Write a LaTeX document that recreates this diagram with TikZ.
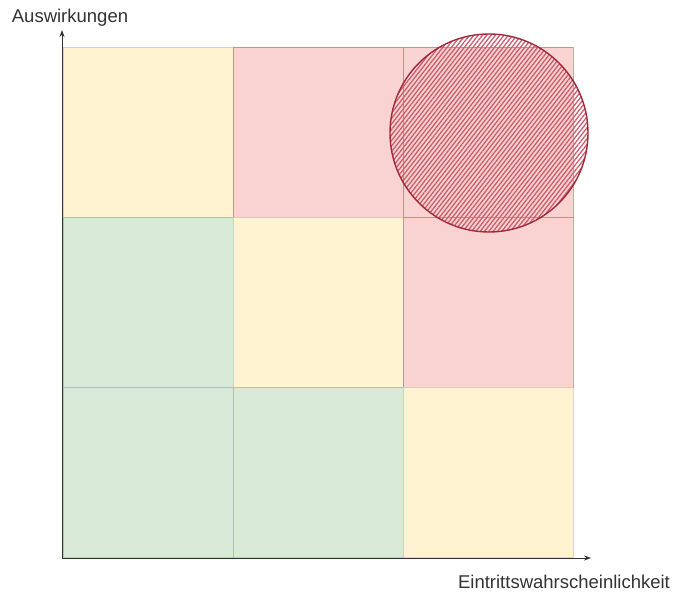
\documentclass[tikz,border=0pt]{standalone}
\usepackage{fontspec}
\setmainfont{Liberation Sans}
\usepackage{tikz}
\usetikzlibrary{arrows.meta,patterns.meta,positioning}

\definecolor{gelb}{HTML}{FFF2CC}
\definecolor{gelbrand}{HTML}{D6B656}
\definecolor{rot}{HTML}{F8CECC}
\definecolor{rotrand}{HTML}{B85450}
\definecolor{gruen}{HTML}{D5E8D4}
\definecolor{gruenrand}{HTML}{82B366}
\definecolor{schraffur}{HTML}{CC5C6C}
\definecolor{kreisrand}{HTML}{A02A3A}

\begin{document}
\begin{tikzpicture}[>={Stealth[length=7pt,width=5pt]}, x=1pt, y=-1pt,
  every node/.style={font=\fontsize{18.5}{22}\selectfont, text=black!80},
  cell/.style={draw=#1rand, draw opacity=0.55, fill=#1, fill opacity=0.9,
    minimum size=170pt, inner sep=0pt, line width=0.8pt}]
  \useasboundingbox (0,0) rectangle (675,592);
  % Raster 3x3
  \foreach \i/\j/\farbe in {1/1/gelb,2/1/rot,3/1/rot,
                            1/2/gruen,2/2/gelb,3/2/rot,
                            1/3/gruen,2/3/gruen,3/3/gelb} {
    \node[cell=\farbe] (c\i\j) at (63+170*\i-85,47+170*\j-85) {};
  }
  % Markierung
  \node[circle, draw=kreisrand, line width=1.4pt, minimum size=198pt,
    inner sep=0pt, pattern={Lines[angle=52,distance=3.4pt,line width=1.3pt]},
    pattern color=schraffur]
    (risiko) at (489,133) {};
  % Achsen
  \coordinate (o) at (62,558);
  \coordinate (ytip) at (62,30);
  \coordinate (xtip) at (591,558);
  \draw[->, line width=0.8pt, black!80] (o) -- (ytip);
  \draw[->, line width=0.8pt, black!80] (o) -- (xtip);
  \node (ylabel) at (70,18) {Auswirkungen};
  \node (xlabel) at (564,582) {Eintrittswahrscheinlichkeit};
\end{tikzpicture}
\end{document}
